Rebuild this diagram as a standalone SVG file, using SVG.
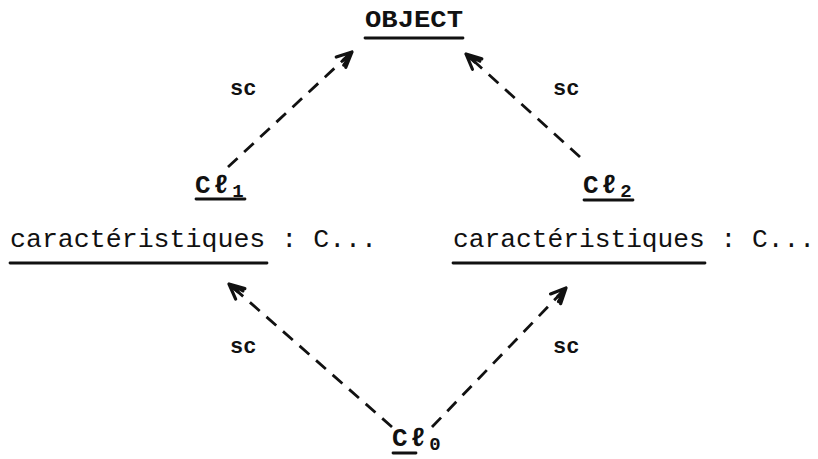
<svg xmlns="http://www.w3.org/2000/svg" width="818" height="459" viewBox="0 0 818 459">
  <style>
    .tw { font-family: "Liberation Mono", "DejaVu Sans Mono", monospace; fill: #111; }
    .bold { font-weight: bold; }
    .cls { font-size: 26px; font-weight: bold; letter-spacing: 3px; }
    .sub { font-size: 19px; }
    .ul { stroke: #111; stroke-width: 2.8; stroke-linecap: round; }
    .edge { stroke: #111; stroke-width: 2.8; stroke-dasharray: 13 9; fill: none; marker-end: url(#barb); }
    .lbl { font-family: "Liberation Mono", "DejaVu Sans Mono", monospace; font-size: 22px; font-weight: bold; fill: #111; }
  </style>
  <defs>
    <!-- open, hand-drawn style arrowhead with a third inner barb -->
    <marker id="barb" markerUnits="userSpaceOnUse" viewBox="-18 -10 22 20" refX="0" refY="0" markerWidth="22" markerHeight="20" orient="auto" overflow="visible">
      <path d="M-15,-7 L0,0 L-15,7 M0,0 L-12,0 M-6,2 L-15,4" fill="none" stroke="#111" stroke-width="3.2" stroke-linecap="round" stroke-linejoin="round"/>
    </marker>
  </defs>

  <!-- connectors: subclass links -->
  <g id="connectors">
    <line class="edge" x1="228" y1="167" x2="352" y2="52"/>
    <line class="edge" x1="580" y1="157" x2="466" y2="54"/>
    <line class="edge" x1="392" y1="427" x2="229" y2="284"/>
    <line class="edge" x1="432" y1="427" x2="566" y2="288"/>
    <text class="lbl" x="230" y="95">sc</text>
    <text class="lbl" x="553" y="95">sc</text>
    <text class="lbl" x="230" y="353">sc</text>
    <text class="lbl" x="553" y="353">sc</text>
  </g>

  <g id="object">
    <text class="tw bold" x="365" y="27" font-size="24" textLength="98" lengthAdjust="spacingAndGlyphs">OBJECT</text>
    <line class="ul" x1="365" y1="38" x2="463" y2="38"/>
  </g>

  <g id="cl1">
    <text class="tw cls" x="195" y="193">Cℓ<tspan class="sub" dy="4">1</tspan></text>
    <line class="ul" x1="196" y1="199" x2="245" y2="199"/>
  </g>

  <g id="cl1-attr">
    <text class="tw" x="10" y="247" font-size="26" textLength="367" lengthAdjust="spacingAndGlyphs">caractéristiques : C...</text>
    <line class="ul" x1="10" y1="263" x2="267" y2="263"/>
  </g>

  <g id="cl2">
    <text class="tw cls" x="583" y="193">Cℓ<tspan class="sub" dy="4">2</tspan></text>
    <line class="ul" x1="584" y1="200" x2="633" y2="200"/>
  </g>

  <g id="cl2-attr">
    <text class="tw" x="453" y="247" font-size="26" textLength="362" lengthAdjust="spacingAndGlyphs">caractéristiques : C...</text>
    <line class="ul" x1="453" y1="263" x2="705" y2="263"/>
  </g>

  <g id="cl0">
    <text class="tw cls" x="392" y="446">Cℓ<tspan class="sub" dy="4">0</tspan></text>
    <line class="ul" x1="393" y1="453" x2="416" y2="453"/>
  </g>
</svg>
